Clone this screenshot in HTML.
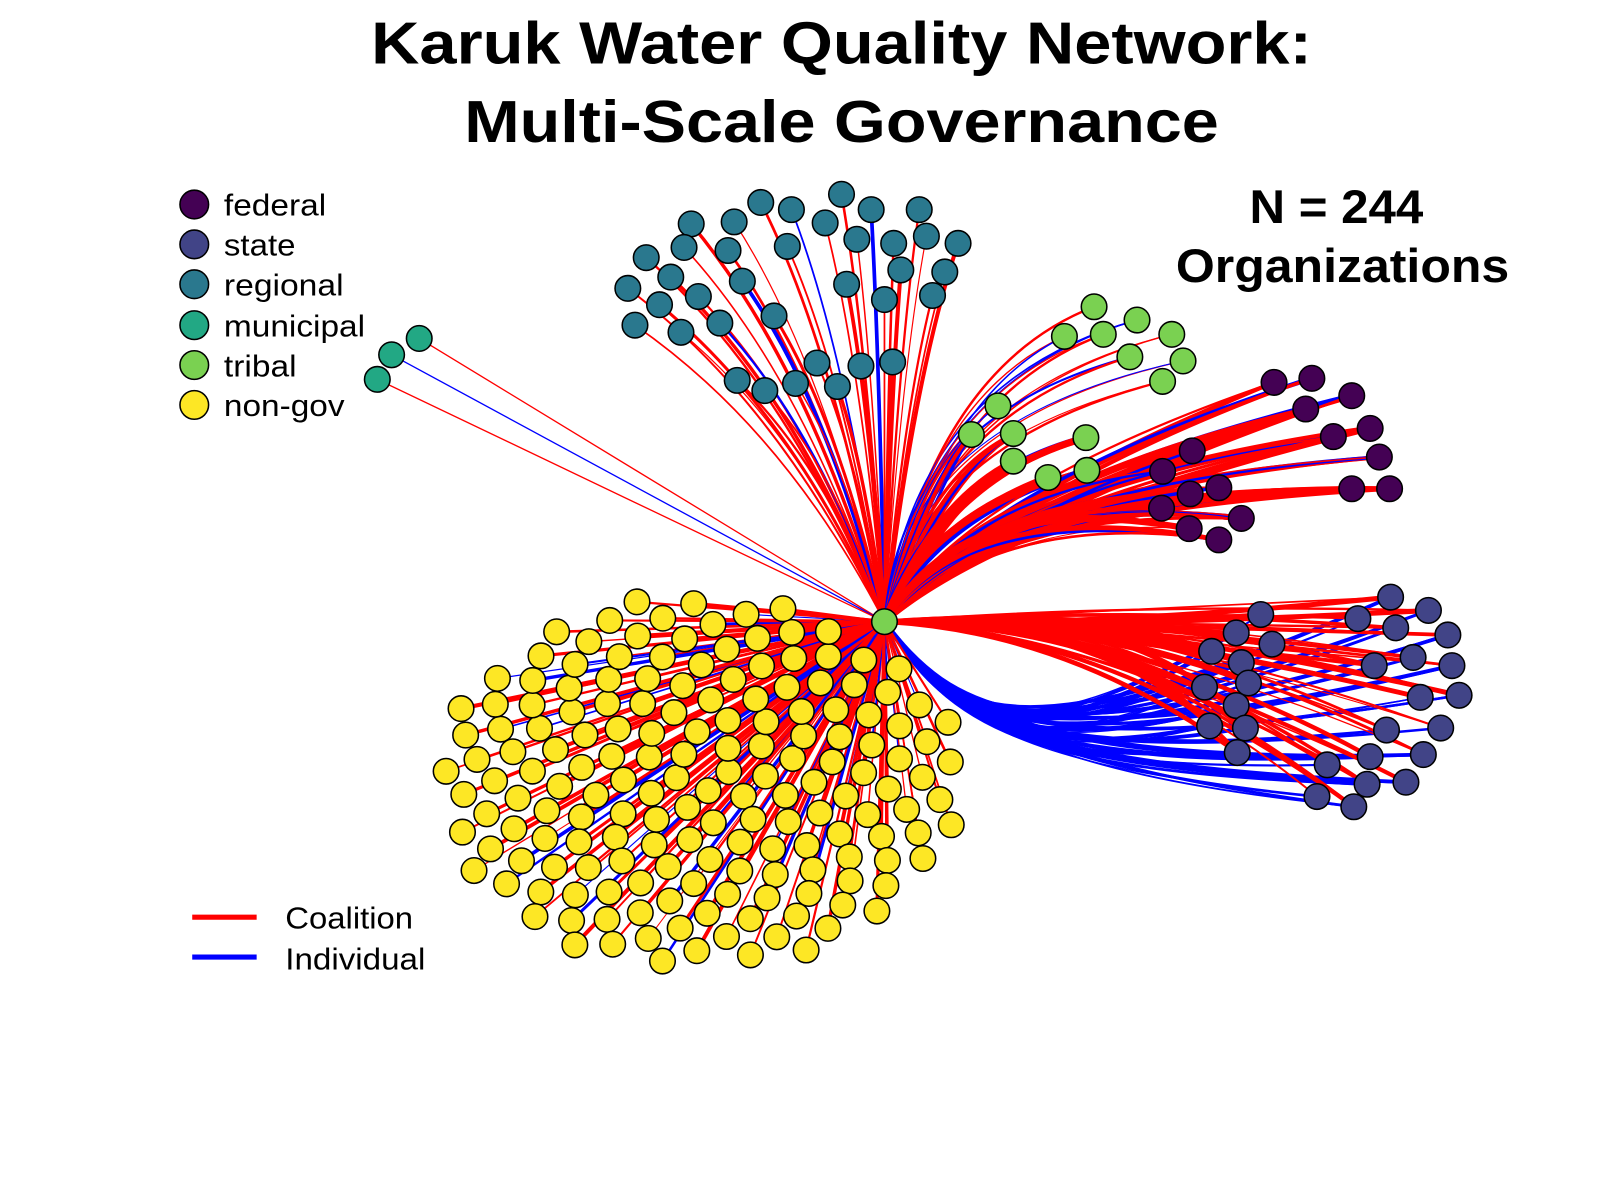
<!DOCTYPE html>
<html><head><meta charset="utf-8"><style>
html,body{margin:0;padding:0;background:#fff;}
svg{display:block;font-family:"Liberation Sans",sans-serif;}
</style></head><body>
<svg id="s" width="1600" height="1200" viewBox="0 0 1600 1200" xmlns="http://www.w3.org/2000/svg">
<rect width="1600" height="1200" fill="#fff"/>
<g transform="scale(1.0225)">
<text x="363" y="62" font-size="58" font-weight="bold" textLength="920" lengthAdjust="spacingAndGlyphs">Karuk Water Quality Network:</text>
<text x="454" y="139" font-size="58" font-weight="bold" textLength="738" lengthAdjust="spacingAndGlyphs">Multi-Scale Governance</text>
<text x="1222" y="218" font-size="46" font-weight="bold" textLength="170" lengthAdjust="spacingAndGlyphs">N = 244</text>
<text x="1150" y="276" font-size="46" font-weight="bold" textLength="326" lengthAdjust="spacingAndGlyphs">Organizations</text>
<g stroke="#000" stroke-width="1.5">
<circle cx="190" cy="200" r="14" fill="#440154"/>
<circle cx="190" cy="239" r="14" fill="#414487"/>
<circle cx="190" cy="278" r="14" fill="#2a788e"/>
<circle cx="190" cy="318" r="14" fill="#22a884"/>
<circle cx="190" cy="357" r="14" fill="#7ad151"/>
<circle cx="190" cy="396" r="14" fill="#fde725"/>
</g>
<g font-size="30">
<text x="219" y="211" textLength="100" lengthAdjust="spacingAndGlyphs">federal</text>
<text x="219" y="250" textLength="70" lengthAdjust="spacingAndGlyphs">state</text>
<text x="219" y="289" textLength="117" lengthAdjust="spacingAndGlyphs">regional</text>
<text x="219" y="329" textLength="138" lengthAdjust="spacingAndGlyphs">municipal</text>
<text x="219" y="368" textLength="71" lengthAdjust="spacingAndGlyphs">tribal</text>
<text x="219" y="407" textLength="118" lengthAdjust="spacingAndGlyphs">non-gov</text>
<line x1="188" y1="897" x2="251" y2="897" stroke="#f00" stroke-width="5"/>
<line x1="188" y1="936" x2="251" y2="936" stroke="#00f" stroke-width="5"/>
<text x="279" y="908" textLength="125" lengthAdjust="spacingAndGlyphs">Coalition</text>
<text x="279" y="948" textLength="137" lengthAdjust="spacingAndGlyphs">Individual</text>
</g>
<g id="edges" fill="none"></g>
<g id="nodes" stroke="#000" stroke-width="1.5"></g>
</g>
</svg>
<script>
var NS="http://www.w3.org/2000/svg",E=document.getElementById("edges"),N=document.getElementById("nodes");
var cx=865,cy=608;
var seed=7;function rnd(){seed=(seed*9301+49297)%233280;return seed/233280;}
function path(d,c,w){var p=document.createElementNS(NS,"path");p.setAttribute("d",d);p.setAttribute("stroke",c);p.setAttribute("stroke-width",w);E.appendChild(p);}
function node(x,y,f){var c=document.createElementNS(NS,"circle");c.setAttribute("cx",x);c.setAttribute("cy",y);c.setAttribute("r",12.5);c.setAttribute("fill",f);N.appendChild(c);}
var G={
reg:[[744,198],[774,205],[823,190],[852,205],[899,205],[676,219],[718,217],[807,218],[838,234],[874,238],[906,231],[937,238],[632,252],[669,242],[712,245],[770,241],[881,264],[924,266],[614,282],[656,271],[683,290],[726,275],[828,278],[865,293],[912,289],[645,298],[621,318],[666,325],[704,316],[757,309],[799,355],[842,358],[873,354],[721,372],[748,382],[778,375],[819,378]],
mun:[[410,331],[383,347],[369,371]],
tri:[[1070,300],[1112,313],[1041,329],[1079,327],[1146,327],[1105,349],[1157,353],[1137,373],[976,397],[950,425],[991,424],[1062,428],[991,451],[1025,467],[1063,460]],
fed:[[1246,374],[1283,370],[1322,387],[1277,400],[1340,419],[1304,427],[1349,447],[1166,441],[1137,461],[1164,483],[1192,477],[1322,478],[1359,478],[1136,497],[1214,507],[1163,517],[1192,528]],
sta:[[1360,584],[1397,597],[1233,601],[1328,605],[1365,614],[1416,621],[1209,619],[1244,630],[1185,637],[1214,648],[1382,643],[1420,651],[1344,651],[1221,668],[1178,672],[1389,682],[1427,680],[1209,690],[1183,710],[1218,712],[1356,714],[1409,712],[1210,736],[1340,740],[1392,738],[1298,748],[1337,767],[1375,765],[1288,779],[1324,789]]};
var Y=[];var n=170;
for(var i=0;i<n;i++){var r=Math.sqrt((i+0.5)/n),a=i*2.39996+1;Y.push([685+258*r*Math.cos(a),765+182*r*Math.sin(a)]);}
G.reg.forEach(function(p,i){var b=rnd()<0.12;path("M"+cx+","+cy+" Q"+(p[0]*0.4+cx*0.6)+","+(cy*0.35+p[1]*0.65)+" "+p[0]+","+p[1],b?"#00f":"#f00",1+rnd()*3);});
G.mun.forEach(function(p,i){path("M"+cx+","+cy+" L"+p[0]+","+p[1],i==1?"#00f":"#f00",1.3);});
G.tri.forEach(function(p){var thick=p[1]>400;for(var k=0;k<(thick?5:2);k++)path("M"+cx+","+cy+" Q"+(thick?900+rnd()*30:880+rnd()*40)+","+(p[1]+(thick?40:60))+" "+p[0]+","+p[1],rnd()<0.25?"#00f":"#f00",thick?2+rnd()*5:1+rnd()*1.5);});
G.fed.forEach(function(p){for(var k=0;k<4;k++)path("M"+cx+","+cy+" Q"+(940+rnd()*60)+","+(470+rnd()*40)+" "+p[0]+","+p[1],rnd()<0.2?"#00f":"#f00",1+rnd()*5);});
G.sta.forEach(function(p){for(var k=0;k<2;k++)path("M"+cx+","+cy+" Q"+(1040+rnd()*60)+","+(590+rnd()*30)+" "+p[0]+","+p[1],"#f00",1+rnd()*4);
 for(var k=0;k<2;k++)path("M"+cx+","+cy+" C"+(930)+","+(690+rnd()*20)+" "+(980+rnd()*30)+","+(745+rnd()*10)+" "+p[0]+","+p[1],"#00f",1+rnd()*3);});
Y.forEach(function(p){path("M"+cx+","+cy+" L"+p[0].toFixed(1)+","+p[1].toFixed(1),rnd()<0.12?"#00f":"#f00",1+rnd()*3);});
G.reg.forEach(function(p){node(p[0],p[1],"#2a788e");});
G.mun.forEach(function(p){node(p[0],p[1],"#22a884");});
G.tri.forEach(function(p){node(p[0],p[1],"#7ad151");});
G.fed.forEach(function(p){node(p[0],p[1],"#440154");});
G.sta.forEach(function(p){node(p[0],p[1],"#414487");});
Y.forEach(function(p){node(p[0].toFixed(1),p[1].toFixed(1),"#fde725");});
node(cx,cy,"#7ad151");
</script>
</body></html>
